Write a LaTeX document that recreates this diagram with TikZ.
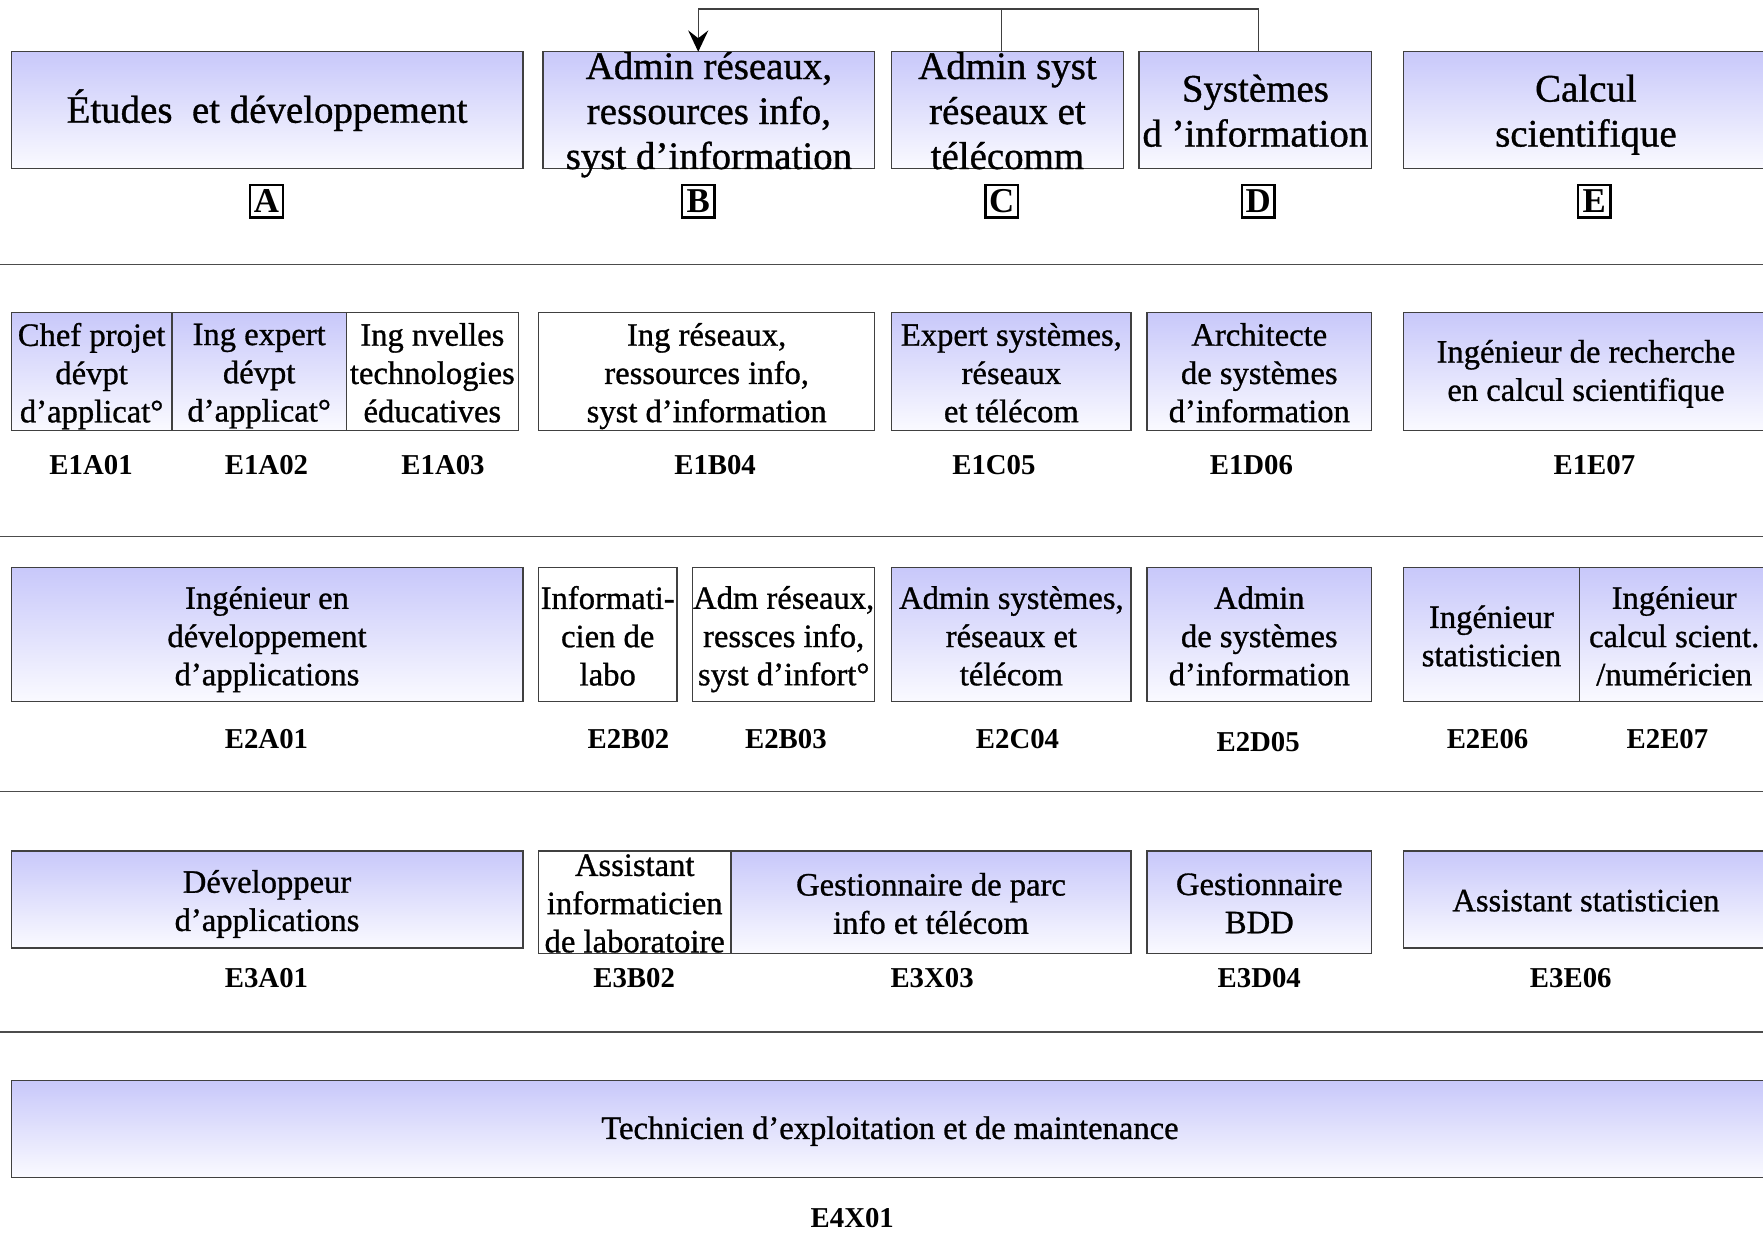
\documentclass[tikz,border=0pt]{standalone}
\usepackage{fontspec}
\setmainfont{Liberation Serif}
\newfontfamily\boxfont{Liberation Serif}[FakeBold=0.9]
\usetikzlibrary{arrows.meta,calc}
\definecolor{gradtop}{RGB}{200,200,250}
\definecolor{gradbot}{RGB}{250,250,255}
\tikzset{
  boxline/.style={draw=black!75, line width=0.6pt, inner sep=0pt, outer sep=0pt},
  gbox/.style={boxline, top color=gradtop, bottom color=gradbot},
  wbox/.style={boxline, fill=white},
  bigtxt/.style={font=\boxfont\fontsize{17.3}{20}\selectfont, align=center, inner sep=0pt, yshift=-2pt, execute at end node={\vphantom{p}}},
  midtxt/.style={font=\boxfont\fontsize{14.5}{17}\selectfont, align=center, inner sep=0pt, yshift=-2pt, execute at end node={\vphantom{p}}},
  codetxt/.style={font=\fontsize{12.8}{15}\selectfont\bfseries, inner sep=0pt},
  lettbox/.style={draw, line width=1.1pt, font=\fontsize{15.5}{16}\selectfont\bfseries, inner sep=0pt, minimum width=14.5pt, minimum height=14.5pt},
  sepline/.style={draw=black!70, line width=0.6pt},
  conn/.style={draw=black!75, line width=0.6pt},
}
\newcommand\mybox[6]{%
  \pgfmathsetmacro\bxcx{(#3+#5)/2}%
  \pgfmathsetmacro\bxcy{(#4+#6)/2}%
  \pgfmathsetmacro\bxw{(#5-#3)*0.5}%
  \pgfmathsetmacro\bxh{(#6-#4)*0.5}%
  \node[#2, minimum width=\bxw pt, minimum height=\bxh pt] (#1) at (\bxcx,\bxcy) {};%
}
\begin{document}
\begin{tikzpicture}[x=0.5pt,y=-0.5pt]
\useasboundingbox (0,0) rectangle (1568,1096);
\clip (0,0) rectangle (1568,1096);
\fill[white] (0,0) rectangle (1568,1096);

% separators
\coordinate (s1l) at (0,235); \coordinate (s1r) at (1568,235);
\coordinate (s2l) at (0,477); \coordinate (s2r) at (1568,477);
\coordinate (s3l) at (0,704); \coordinate (s3r) at (1568,704);
\coordinate (s4l) at (0,918); \coordinate (s4r) at (1568,918);
\draw[sepline] (s1l) -- (s1r);
\draw[sepline] (s2l) -- (s2r);
\draw[sepline] (s3l) -- (s3r);
\draw[sepline] (s4l) -- (s4r);

% ---------- Row 0 ----------
\mybox{A}{gbox}{10}{46}{465}{150}
\mybox{B}{gbox}{483}{46}{778}{150}
\mybox{C}{gbox}{793}{46}{999}{150}
\mybox{D}{gbox}{1013}{46}{1220}{150}
\mybox{E}{gbox}{1248}{46}{1573}{150}
\node[bigtxt, yshift=2pt] (At) at (A) {Études\ \ et développement};
\node[bigtxt] (Bt) at (B) {Admin réseaux,\\ressources info,\\syst d’information};
\node[bigtxt] (Ct) at (C) {Admin syst\\réseaux et\\télécomm};
\node[bigtxt] (Dt) at (D) {Systèmes\\d ’information};
\node[bigtxt] (Et) at (E) {Calcul\\scientifique};
\node[lettbox] (lA) at (237,179) {A};
\node[lettbox] (lB) at (621,179) {B};
\node[lettbox] (lC) at (891,179) {C};
\node[lettbox] (lD) at (1119,179) {D};
\node[lettbox] (lE) at (1418,179) {E};
\coordinate (bus) at (0,8);
\draw[conn, -{Stealth[length=9.5pt,width=9pt,inset=3.5pt,color=black]}] (D.north -| lD) -- (bus -| lD) -- (bus -| lB) -- (B.north -| lB);
\draw[conn] (C.north -| lC) -- (bus -| lC);

% ---------- Row 1 ----------
\mybox{r1a}{gbox}{10}{278}{153}{383}
\mybox{r1b}{gbox}{153}{278}{308}{383}
\mybox{r1c}{wbox}{308}{278}{461}{383}
\mybox{r1d}{wbox}{479}{278}{778}{383}
\mybox{r1e}{gbox}{793}{278}{1006}{383}
\mybox{r1f}{gbox}{1020}{278}{1220}{383}
\mybox{r1g}{gbox}{1248}{278}{1573}{383}
\node[midtxt] (r1at) at (r1a) {Chef projet\\dévpt\\d’applicat°};
\node[midtxt] (r1bt) at (r1b) {Ing expert\\dévpt\\d’applicat°};
\node[midtxt] (r1ct) at (r1c) {Ing nvelles\\technologies\\éducatives};
\node[midtxt] (r1dt) at (r1d) {Ing réseaux,\\ressources info,\\syst d’information};
\node[midtxt] (r1et) at (r1e) {Expert systèmes,\\réseaux\\et télécom};
\node[midtxt] (r1ft) at (r1f) {Architecte\\de systèmes\\d’information};
\node[midtxt, yshift=1pt] (r1gt) at (r1g) {Ingénieur de recherche\\en calcul scientifique};
\node[codetxt] (c1a) at (81,414) {E1A01};
\node[codetxt] (c1b) at (237,414) {E1A02};
\node[codetxt] (c1c) at (394,414) {E1A03};
\node[codetxt] (c1d) at (636,414) {E1B04};
\node[codetxt] (c1e) at (884,414) {E1C05};
\node[codetxt] (c1f) at (1113,414) {E1D06};
\node[codetxt] (c1g) at (1418,414) {E1E07};

% ---------- Row 2 ----------
\mybox{r2a}{gbox}{10}{505}{465}{624}
\mybox{r2b}{wbox}{479}{505}{602}{624}
\mybox{r2c}{wbox}{616}{505}{778}{624}
\mybox{r2d}{gbox}{793}{505}{1006}{624}
\mybox{r2e}{gbox}{1020}{505}{1220}{624}
\mybox{r2f}{gbox}{1248}{505}{1405}{624}
\mybox{r2g}{gbox}{1405}{505}{1573}{624}
\node[midtxt] (r2at) at (r2a) {Ingénieur en\\développement\\d’applications};
\node[midtxt] (r2bt) at (r2b) {Informati-\\cien de\\labo};
\node[midtxt] (r2ct) at (r2c) {Adm réseaux,\\ressces info,\\syst d’infort°};
\node[midtxt] (r2dt) at (r2d) {Admin systèmes,\\réseaux et\\télécom};
\node[midtxt] (r2et) at (r2e) {Admin\\de systèmes\\d’information};
\node[midtxt] (r2ft) at (r2f) {Ingénieur\\statisticien};
\node[midtxt] (r2gt) at (r2g) {Ingénieur\\calcul scient.\\/numéricien};
\node[codetxt] (c2a) at (237,657) {E2A01};
\node[codetxt] (c2b) at (559,657) {E2B02};
\node[codetxt] (c2c) at (699,657) {E2B03};
\node[codetxt] (c2d) at (905,657) {E2C04};
\node[codetxt] (c2e) at (1119,660) {E2D05};
\node[codetxt] (c2f) at (1323,657) {E2E06};
\node[codetxt] (c2g) at (1483,657) {E2E07};

% ---------- Row 3 ----------
\mybox{r3a}{gbox}{10}{757}{465}{843}
\mybox{r3b}{wbox}{479}{757}{650}{848}
\mybox{r3c}{gbox}{650}{757}{1006}{848}
\mybox{r3d}{gbox}{1020}{757}{1220}{848}
\mybox{r3e}{gbox}{1248}{757}{1573}{843}
\node[midtxt] (r3at) at (r3a) {Développeur\\d’applications};
\node[midtxt] (r3bt) at (r3b) {Assistant\\informaticien\\de laboratoire};
\node[midtxt] (r3ct) at (r3c) {Gestionnaire de parc\\info et télécom};
\node[midtxt] (r3dt) at (r3d) {Gestionnaire\\BDD};
\node[midtxt] (r3et) at (r3e) {Assistant statisticien};
\node[codetxt] (c3a) at (237,870) {E3A01};
\node[codetxt] (c3b) at (564,870) {E3B02};
\node[codetxt] (c3c) at (829,870) {E3X03};
\node[codetxt] (c3d) at (1120,870) {E3D04};
\node[codetxt] (c3e) at (1397,870) {E3E06};

% ---------- Row 4 ----------
\mybox{r4a}{gbox}{10}{961}{1573}{1047}
\node[midtxt, yshift=1pt] (r4at) at (r4a) {Technicien d’exploitation et de maintenance};
\node[codetxt] (c4a) at (758,1083) {E4X01};
\end{tikzpicture}
\end{document}
